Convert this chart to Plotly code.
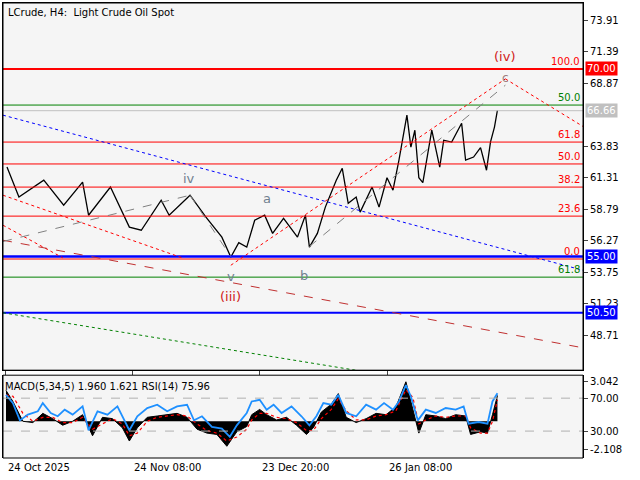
import plotly.graph_objects as go

# price path (bar position, close)
px_x = [4, 16, 41, 61, 80, 86, 108, 127, 139, 159, 167, 188, 204, 220, 229, 237, 245, 253,
        263, 271, 282, 296, 304, 308, 316, 324, 335, 341, 347, 355, 359, 371, 378, 386, 392,
        398, 406, 410, 414, 418, 422, 427, 431, 439, 443, 451, 461, 465, 473, 480, 486, 490,
        494, 497]
px_y = [62.15, 59.75, 61.1, 59.1, 60.95, 58.3, 60.55, 57.35, 57.1, 59.5, 58.3, 59.9, 58.15,
        56.55, 54.95, 56.1, 55.75, 57.9, 58.3, 56.85, 58.05, 56.55, 58.3, 55.75, 56.85, 58.95,
        61.1, 62.05, 59.25, 59.75, 58.55, 60.55, 58.95, 61.3, 60.3, 62.7, 66.3, 63.75, 65.1,
        61.3, 60.9, 63.25, 65.1, 62.15, 64.3, 64.15, 65.65, 62.7, 62.95, 63.7, 61.9, 64.15,
        65.35, 66.7]

macd_x = [3, 10, 20, 30, 40, 50, 60, 70, 80, 90, 100, 110, 120, 127, 135, 145, 155, 165, 175,
          185, 195, 205, 215, 225, 235, 245, 250, 258, 265, 275, 285, 295, 305, 312, 320, 330,
          337, 345, 355, 365, 375, 385, 395, 405, 412, 418, 425, 435, 445, 455, 465, 470, 480,
          487, 492, 497]
macd_hist = [2.35, 1.5, 0.0, -0.1, 0.6, 0.2, -0.3, 0.0, 0.5, -1.1, 0.3, 0.2, -0.5, -1.5, -0.5,
             0.3, 0.4, 0.5, 0.6, 0.3, -0.6, -0.9, -1.0, -1.9, -0.8, -0.4, 0.5, 0.9, 0.5, 0.1,
             0.3, -0.3, -1.0, -0.5, 0.7, 1.3, 2.1, 0.3, -0.1, 0.2, 0.6, 0.5, 1.1, 3.0, 1.0,
             -0.9, 0.5, 0.4, 0.2, 0.5, 0.4, -1.0, -0.8, -0.9, 0.5, 1.96]
macd_signal = [2.0, 1.9, 0.6, 0.0, 0.3, 0.3, -0.1, -0.1, 0.3, -0.6, -0.2, 0.2, -0.2, -1.1,
               -0.9, 0.0, 0.3, 0.4, 0.5, 0.4, -0.2, -0.7, -0.9, -1.5, -1.2, -0.6, 0.1, 0.6,
               0.6, 0.3, 0.2, -0.1, -0.7, -0.7, 0.2, 0.9, 1.7, 0.8, 0.1, 0.1, 0.4, 0.5, 0.8,
               2.4, 1.8, -0.2, 0.1, 0.4, 0.3, 0.4, 0.4, -0.5, -0.9, -0.9, 0.0, 1.62]

rsi_x = [3, 10, 17, 25, 35, 40, 48, 55, 62, 70, 80, 86, 95, 105, 115, 122, 127, 135, 145, 155,
         165, 175, 185, 192, 200, 210, 220, 228, 235, 245, 250, 258, 265, 272, 280, 290, 300,
         308, 315, 322, 330, 337, 345, 355, 365, 375, 383, 392, 398, 405, 410, 417, 425, 435,
         445, 455, 463, 468, 478, 487, 492, 497]
rsi_y = [74, 64, 43, 50, 54, 64, 52, 48, 56, 50, 60, 31, 54, 50, 60, 43, 31, 48, 58, 62, 54,
         60, 62, 43, 48, 35, 33, 23, 37, 52, 66, 68, 56, 62, 52, 60, 48, 37, 48, 64, 62, 74,
         52, 48, 62, 56, 64, 56, 66, 86, 72, 43, 56, 52, 58, 56, 60, 39, 41, 39, 66, 76]

date_ticks = [3, 130, 258, 386]
date_labels = ["24 Oct 2025", "24 Nov 08:00", "23 Dec 20:00", "26 Jan 08:00"]
price_ticks = [73.91, 71.39, 68.87, 63.83, 61.31, 58.79, 56.27, 53.75, 51.23, 48.71]

# fibonacci levels: (price, label, colour)
fib_levels = [(70.0, "100.0", "red"), (67.11, "50.0", "green"), (64.15, "61.8", "red"),
              (62.4, "50.0", "red"), (60.55, "38.2", "red"), (58.23, "23.6", "red"),
              (54.8, "0.0", "red"), (53.35, "61.8", "green")]

fig = go.Figure()
FONT = "DejaVu Sans"

fig.add_trace(go.Scatter(x=px_x, y=px_y, mode="lines", line=dict(color="black", width=1.3),
                         xaxis="x", yaxis="y"))

# lower panel
fig.add_trace(go.Scatter(x=macd_x, y=macd_hist, mode="lines", fill="tozeroy",
                         fillcolor="black", line=dict(color="black", width=1),
                         xaxis="x", yaxis="y2"))
fig.add_trace(go.Scatter(x=macd_x, y=macd_signal, mode="lines",
                         line=dict(color="red", width=1.2, dash="dot"), xaxis="x", yaxis="y2"))
fig.add_trace(go.Scatter(x=rsi_x, y=rsi_y, mode="lines",
                         line=dict(color="#1e90ff", width=1.8), xaxis="x", yaxis="y3"))

shapes = []


def hline(y, color, width=1, ref="y", dash="solid"):
    shapes.append(dict(type="line", xref="paper", x0=0, x1=1, yref=ref, y0=y, y1=y,
                       line=dict(color=color, width=width, dash=dash)))


def seg(x0, y0, x1, y1, color, dash="dot", width=1):
    shapes.append(dict(type="line", xref="x", yref="y", x0=x0, y0=y0, x1=x1, y1=y1,
                       line=dict(color=color, width=width, dash=dash)))


hline(66.66, "#c0c0c0")
for p, _, c in fib_levels:
    hline(p, c, 2 if p == 70.0 else 1)
hline(55.0, "blue", 2.5)
hline(50.5, "blue", 2)
hline(70, "#b0b0b0", 1, "y3", "dash")
hline(30, "#b0b0b0", 1, "y3", "dash")

# trend / wave lines
seg(0, 66.3, 583, 53.9, "blue")
seg(0, 59.9, 180, 54.9, "red")
seg(0, 57.5, 60, 54.9, "red")
seg(0, 56.3, 583, 47.7, "#c03030", "dash")
seg(0, 50.5, 355, 45.9, "green")
seg(0, 56.2, 188, 59.9, "gray", "dash")
seg(188, 59.9, 229, 55.0, "gray", "dash")
seg(229, 54.3, 505, 69.2, "red")
seg(505, 69.2, 583, 65.4, "red")
seg(308, 55.8, 505, 68.7, "gray", "dash")

ann = []


def text(x, y, s, color, size=11, xanchor="center", xref="x", yref="y", **kw):
    ann.append(dict(x=x, y=y, xref=xref, yref=yref, text=s, showarrow=False,
                    font=dict(family=FONT, size=size, color=color), xanchor=xanchor, **kw))


for p, lab, c in fib_levels:
    text(582, p + 0.6, lab, c, 10, "right")
for s, x, y in [("iv", 187, 61.2), ("a", 265, 59.6), ("b", 303, 53.5), ("v", 229, 53.4)]:
    text(x, y, s, "#708090", 13)
text(505, 69.3, "c", "#a08080", 12)
text(229, 51.8, "(iii)", "#d02020", 13)
text(504, 71.0, "(iv)", "#d02020", 13)

for lab, p, bg in [("70.00", 70.0, "red"), ("66.66", 66.66, "#c0c0c0"),
                   ("55.00", 55.0, "blue"), ("50.50", 50.5, "blue")]:
    text(1.003, p, lab, "white", 10, "left", xref="paper", bgcolor=bg, borderpad=1)

for x, lab in zip(date_ticks, date_labels):
    text(x, -0.005, lab, "black", 10, "left", yref="paper", yanchor="top")

text(0.005, 0.995, "LCrude, H4:  Light Crude Oil Spot", "black", 10, "left",
     xref="paper", yref="paper", yanchor="top")
text(0.005, 3.2, "MACD(5,34,5) 1.960 1.621 RSI(14) 75.96", "black", 10, "left",
     yref="y2", yanchor="top")

fig.update_layout(
    width=640, height=480, margin=dict(l=3, r=57, t=3, b=22, autoexpand=False),
    paper_bgcolor="white", plot_bgcolor="#f5f5f5", showlegend=False,
    font=dict(family=FONT, size=10, color="black"),
    xaxis=dict(range=[0, 583], showgrid=False, zeroline=False, showticklabels=False,
               tickvals=date_ticks, ticks="outside", ticklen=4, showline=True,
               linecolor="black", mirror=True, automargin=False),
    yaxis=dict(domain=[0.193, 1], range=[45.91, 75.27], side="right", tickvals=price_ticks,
               ticktext=[f"{v:.2f}" for v in price_ticks], ticks="outside", ticklen=4,
               showgrid=False, zeroline=False, showline=True, linecolor="black", mirror=True,
               automargin=False),
    yaxis2=dict(domain=[0, 0.182], range=[-2.79, 3.5], side="right",
                tickvals=[3.042, -2.108], ticktext=["3.042", "-2.108"], ticks="outside",
                ticklen=4, showgrid=False, zeroline=False, showline=True, linecolor="black",
                mirror=True, automargin=False),
    yaxis3=dict(overlaying="y2", range=[-2.7, 97.9], side="right", tickvals=[70, 30],
                ticktext=["70.00", "30.00"], ticks="outside", ticklen=4, showgrid=False,
                zeroline=False, automargin=False),
    shapes=shapes, annotations=ann,
)
fig.add_shape(type="rect", xref="paper", yref="paper", x0=0, x1=1, y0=0, y1=0.182,
              line=dict(color="black", width=1))
fig.add_shape(type="rect", xref="paper", yref="paper", x0=0, x1=1, y0=0.193, y1=1,
              line=dict(color="black", width=1))

fig.write_html("out.html", config={"displayModeBar": False},
               post_script="document.body.style.margin='0';")
